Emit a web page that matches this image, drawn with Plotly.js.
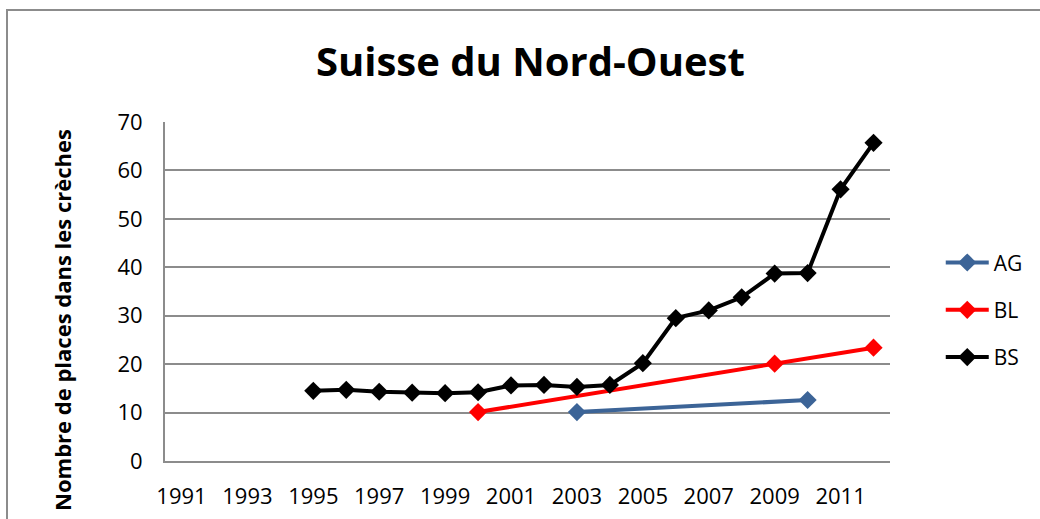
<!DOCTYPE html>
<html>
<head>
<meta charset="utf-8">
<script src="https://cdn.plot.ly/plotly-3.0.1.min.js"></script>
<style>
  html, body { margin: 0; padding: 0; background: #ffffff; }
  #chart { width: 1040px; height: 519px; position: absolute; left: 0; top: 0; }
  #frame { position: absolute; left: 6px; top: 9px; width: 1100px; height: 600px;
           border-left: 2px solid #8c8c8c; border-top: 2px solid #8c8c8c; pointer-events: none; }
</style>
</head>
<body>
<div id="chart"></div>
<div id="frame"></div>
<script>
// Category years shown on the x axis (1991 to 2012)
const years = [];
for (let y = 1991; y <= 2012; y++) years.push(String(y));
const tickYears = ['1991', '1993', '1995', '1997', '1999', '2001', '2003', '2005', '2007', '2009', '2011'];

// Series
const agYears = ['2003', '2010'];
const agValues = [10.1, 12.6];

const blYears = ['2000', '2009', '2012'];
const blValues = [10.1, 20.1, 23.4];

const bsYears = ['1995', '1996', '1997', '1998', '1999', '2000', '2001', '2002', '2003',
                 '2004', '2005', '2006', '2007', '2008', '2009', '2010', '2011', '2012'];
const bsValues = [14.5, 14.7, 14.3, 14.1, 14.0, 14.2, 15.6, 15.7, 15.3,
                  15.7, 20.2, 29.5, 31.1, 33.8, 38.7, 38.8, 56.1, 65.7];

const FONT = 'Open Sans, Liberation Sans, sans-serif';

function series(name, x, y, color, group) {
  return {
    x: x, y: y, name: name, legendgroup: group,
    type: 'scatter', mode: 'lines+markers',
    line: { color: color, width: 4 },
    marker: { symbol: 'diamond', color: color, size: 14 },
  };
}

Plotly.newPlot('chart', [
  series('AG', agYears, agValues, '#3c6497', 'a'),
  series('BL', blYears, blValues, '#ff0000', 'b'),
  series('BS', bsYears, bsValues, '#000000', 'c'),
], {
  title: {
    text: '<b>Suisse du Nord-Ouest</b>',
    font: { family: FONT, size: 40, color: '#000000' },
    x: 0.51, xanchor: 'center', y: 0.88, yanchor: 'middle',
  },
  xaxis: {
    type: 'category',
    categoryarray: years,
    range: [-0.5, 21.5],
    tickvals: tickYears,
    ticktext: tickYears,
    ticks: '',
    ticklabelstandoff: 15,
    showgrid: false,
    showline: true,
    linecolor: '#8c8c8c',
    linewidth: 2,
    zeroline: false,
    tickfont: { family: FONT, size: 22, color: '#000000' },
  },
  yaxis: {
    range: [0, 70],
    dtick: 10,
    ticks: '',
    ticklabelstandoff: 16,
    showline: true,
    linecolor: '#8c8c8c',
    linewidth: 2,
    gridcolor: '#8c8c8c',
    gridwidth: 2,
    zeroline: false,
    tickfont: { family: FONT, size: 22, color: '#000000' },
  },
  annotations: [{
    text: '<b>Nombre de places dans les crèches</b>',
    font: { family: FONT, size: 22, color: '#000000' },
    textangle: -90,
    xref: 'paper', x: 0, xanchor: 'center', xshift: -103,
    yref: 'paper', y: 0.416, yanchor: 'middle',
    showarrow: false,
  }],
  legend: {
    x: 1.07, xanchor: 'left', y: 0.645, yanchor: 'top',
    traceorder: 'grouped', tracegroupgap: 17,
    itemwidth: 43,
    font: { family: FONT, size: 21, color: '#000000' },
    bgcolor: 'rgba(0,0,0,0)',
  },
  showlegend: true,
  margin: { l: 165, r: 148, t: 122, b: 58 },
  paper_bgcolor: '#ffffff',
  plot_bgcolor: '#ffffff',
}, { displayModeBar: false });
</script>
</body>
</html>
